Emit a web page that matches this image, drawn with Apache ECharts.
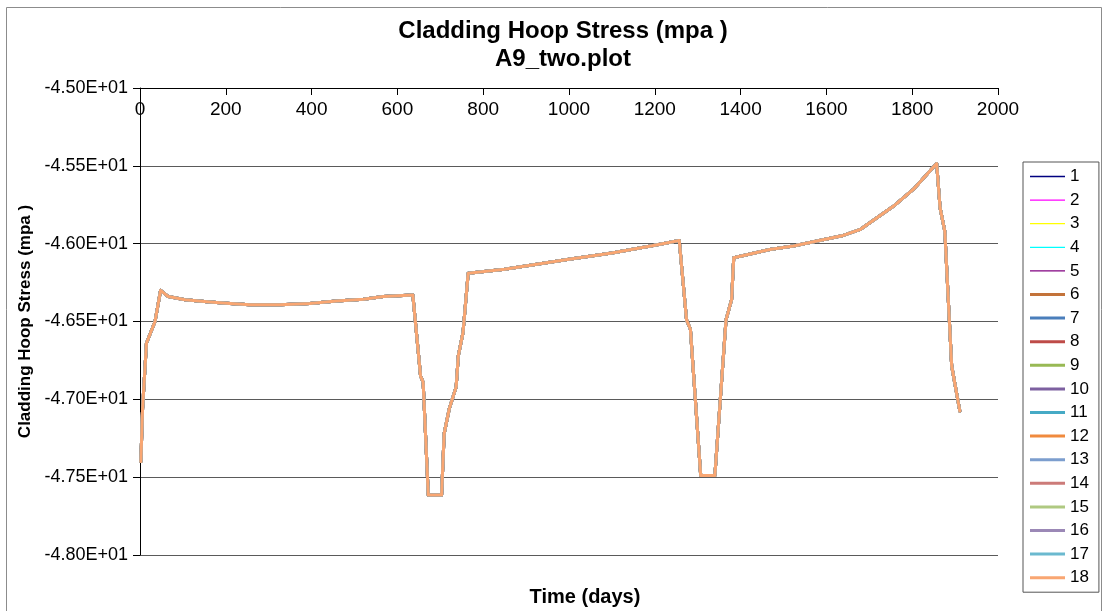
<!DOCTYPE html>
<html>
<head>
<meta charset="utf-8">
<title>Cladding Hoop Stress</title>
<script src="https://cdn.jsdelivr.net/npm/echarts@6/dist/echarts.min.js"></script>
<style>
  html, body { margin: 0; padding: 0; background: #ffffff; }
  #chart { width: 1106px; height: 611px; }
</style>
</head>
<body>
<div id="chart"></div>
<script>
// Time in days and cladding hoop stress (MPa); every run shares the same history
const days = [2, 6, 15, 35, 48, 66, 105, 163, 210, 256, 326, 396, 458, 521, 567, 636,
  654, 660, 672, 703, 709, 721, 737, 742, 753, 765,
  850, 1000, 1100, 1200, 1257,
  1274, 1283, 1307, 1340, 1366, 1379, 1384,
  1468, 1523, 1639, 1678, 1756, 1803, 1857,
  1865, 1876, 1892, 1911];
const stress = [-47.40, -47.06, -46.64, -46.50, -46.30, -46.34, -46.36, -46.375, -46.385, -46.392, -46.392, -46.385, -46.368, -46.357, -46.34, -46.33,
  -46.85, -46.89, -47.615, -47.615, -47.22, -47.06, -46.92, -46.72, -46.57, -46.19,
  -46.165, -46.10, -46.06, -46.01, -45.98,
  -46.49, -46.55, -47.49, -47.49, -46.49, -46.36, -46.09,
  -46.037, -46.015, -45.947, -45.91, -45.76, -45.65, -45.485,
  -45.77, -45.92, -46.785, -47.075];

const seriesNames = ['1', '2', '3', '4', '5', '6', '7', '8', '9', '10', '11', '12', '13', '14', '15', '16', '17', '18'];
const seriesColors = ['#000080', '#FF00FF', '#FFFF00', '#00FFFF', '#800080', '#C3733A', '#4A7EBB', '#BE4B48',
  '#98B954', '#7D60A0', '#46AAC5', '#F08A3E', '#7C9ECE', '#CC7B79', '#AFC981', '#9B88B6', '#6BB9CF', '#F9A672'];

const titleText = 'Cladding Hoop Stress (mpa )';
const subTitleText = 'A9_two.plot';
const xTitle = 'Time (days)';

const FONT = '"Liberation Sans", Arial, sans-serif';

// thin and thick line swatches for the legend
const THIN_ICON = 'path://M0,0h35v1.3h-35z';
const THICK_ICON = 'path://M0,0h35v3h-35z';

function sci(v) {
  const s = Number(v).toExponential(2).toUpperCase();
  return s.replace(/E([+-])(\d+)$/, function (m, sign, exp) {
    return 'E' + sign + (exp.length < 2 ? '0' + exp : exp);
  });
}

const points = days.map(function (d, i) { return [d, stress[i]]; });

const series = seriesNames.map(function (name, i) {
  return {
    name: name,
    type: 'line',
    data: points,
    symbol: 'none',
    animation: false,
    lineStyle: {
      color: seriesColors[i],
      width: i < 5 ? 1.3 : 3,
      cap: 'round',
      join: 'round'
    },
    itemStyle: { color: seriesColors[i] }
  };
});

const legendData = seriesNames.map(function (name, i) {
  return { name: name, icon: i < 5 ? THIN_ICON : THICK_ICON, itemStyle: { color: seriesColors[i] } };
});

const chart = echarts.init(document.getElementById('chart'), null, { renderer: 'canvas' });

chart.setOption({
  backgroundColor: '#ffffff',
  animation: false,
  color: seriesColors,
  title: [
    {
      text: titleText + '\n' + subTitleText,
      left: 558,
      top: 12,
      textAlign: 'center',
      textStyle: { fontFamily: FONT, fontSize: 24, fontWeight: 'bold', color: '#000', lineHeight: 28 }
    },
    {
      text: xTitle,
      left: 580,
      top: 582,
      textAlign: 'center',
      textStyle: { fontFamily: FONT, fontSize: 20, fontWeight: 'bold', color: '#000' }
    }
  ],
  graphic: [
    {
      type: 'rect',
      shape: { x: 6.5, y: 7.5, width: 1095, height: 610 },
      style: { fill: 'none', stroke: '#8c8c8c', lineWidth: 1 },
      silent: true
    }
  ],
  legend: {
    type: 'plain',
    orient: 'vertical',
    left: 1023,
    top: 162,
    padding: [6, 10, 6, 7],
    itemWidth: 35,
    itemHeight: 14,
    itemGap: 6.6,
    symbolKeepAspect: true,
    borderColor: '#555',
    borderWidth: 1,
    data: legendData,
    textStyle: { fontFamily: FONT, fontSize: 17, color: '#000' }
  },
  grid: { left: 140, right: 108, top: 88, bottom: 56, containLabel: false },
  xAxis: {
    type: 'value',
    position: 'top',
    min: 0,
    max: 2000,
    interval: 200,
    axisLine: { onZero: false, lineStyle: { color: '#000', width: 1 } },
    axisTick: { show: true, inside: true, length: 7, lineStyle: { color: '#000' } },
    axisLabel: {
      inside: true, margin: 12, fontFamily: FONT, fontSize: 19, color: '#000',
      formatter: function (v) { return String(v); }
    },
    splitLine: { show: false }
  },
  yAxis: {
    type: 'value',
    min: -48,
    max: -45,
    interval: 0.5,
    name: titleText,
    nameLocation: 'middle',
    nameGap: 100,
    nameTextStyle: { fontFamily: FONT, fontSize: 17, fontWeight: 'bold', color: '#000' },
    axisLine: { show: true, onZero: false, lineStyle: { color: '#000', width: 1 } },
    axisTick: { show: true, inside: false, length: 7, lineStyle: { color: '#000' } },
    axisLabel: { margin: 12, fontFamily: FONT, fontSize: 18, color: '#000', formatter: sci },
    splitLine: { show: true, lineStyle: { color: '#5a5a5a', width: 1 } }
  },
  series: series
});
</script>
</body>
</html>
